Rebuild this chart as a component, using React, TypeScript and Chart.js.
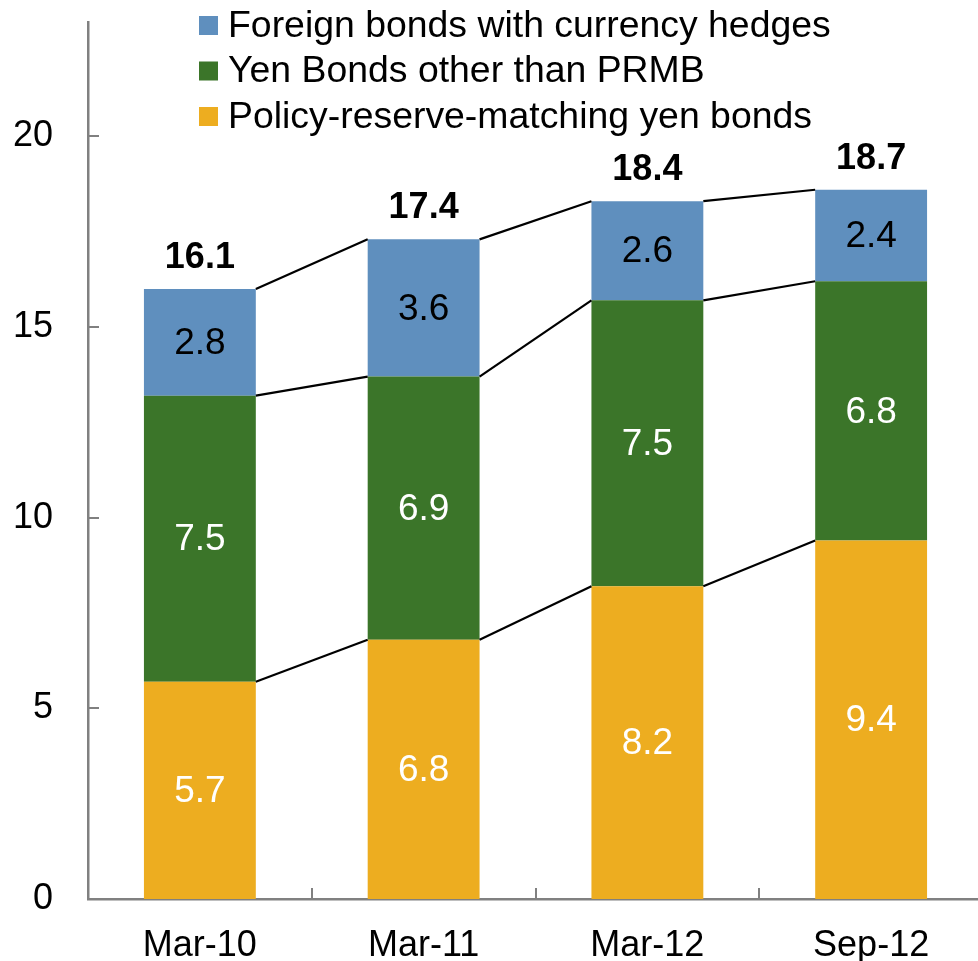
import React, { useEffect, useRef } from "react";
import { Chart, registerables } from "chart.js";

Chart.register(...registerables);

const categories = ["Mar-10", "Mar-11", "Mar-12", "Sep-12"];
const policyReserve = [5.7, 6.8, 8.2, 9.4];
const yenOther = [7.5, 6.9, 7.5, 6.8];
const foreignHedged = [2.8, 3.6, 2.6, 2.4];
const totals = [16.1, 17.4, 18.4, 18.7];
const yTicks = [0, 5, 10, 15, 20];
const seriesLabels = [
  "Policy-reserve-matching yen bonds",
  "Yen Bonds other than PRMB",
  "Foreign bonds with currency hedges",
];
const seriesColors = ["#EDAD20", "#3B7529", "#5F8FBE"];
const labelColors = ["#FFFFFF", "#FFFFFF", "#000000"];

const FONT = '"Liberation Sans", Arial, sans-serif';
const AXIS_COLOR = "#808080";

const overlayPlugin = {
  id: "overlay",
  afterDatasetsDraw(chart: any) {
    const ctx = chart.ctx;
    const metas = chart.data.datasets.map((_: any, i: number) => chart.getDatasetMeta(i));
    ctx.save();
    // connector lines
    ctx.strokeStyle = "#000000";
    ctx.lineWidth = 2.2;
    metas.forEach((meta: any) => {
      for (let i = 0; i < meta.data.length - 1; i++) {
        const a = meta.data[i];
        const b = meta.data[i + 1];
        ctx.beginPath();
        ctx.moveTo(a.x + a.width / 2, a.y);
        ctx.lineTo(b.x - b.width / 2, b.y);
        ctx.stroke();
      }
    });
    // segment labels
    ctx.font = `37px ${FONT}`;
    ctx.textAlign = "center";
    ctx.textBaseline = "middle";
    metas.forEach((meta: any, d: number) => {
      ctx.fillStyle = labelColors[d];
      meta.data.forEach((el: any, i: number) => {
        const v = chart.data.datasets[d].data[i] as number;
        ctx.fillText(v.toFixed(1), el.x, (el.y + el.base) / 2 + 1.5);
      });
    });
    // totals
    ctx.font = `bold 36px ${FONT}`;
    ctx.fillStyle = "#000000";
    const topMeta = metas[metas.length - 1];
    topMeta.data.forEach((el: any, i: number) => {
      ctx.fillText(totals[i].toFixed(1), el.x, el.y - 31);
    });
    ctx.restore();
  },
  afterDraw(chart: any) {
    const ctx = chart.ctx;
    const area = chart.chartArea;
    const yScale = chart.scales.y;
    const xScale = chart.scales.x;
    ctx.save();
    ctx.strokeStyle = AXIS_COLOR;
    ctx.lineWidth = 2;
    // inward y tick marks
    yTicks.forEach((v) => {
      const py = Math.round(yScale.getPixelForValue(v));
      ctx.beginPath();
      ctx.moveTo(area.left, py);
      ctx.lineTo(area.left + 11, py);
      ctx.stroke();
    });
    // category separators on x axis
    for (let i = 1; i < categories.length; i++) {
      const px = Math.round(
        (xScale.getPixelForValue(i - 1) + xScale.getPixelForValue(i)) / 2
      );
      ctx.beginPath();
      ctx.moveTo(px, area.bottom);
      ctx.lineTo(px, area.bottom - 11);
      ctx.stroke();
    }
    // legend
    ctx.font = `37.4px ${FONT}`;
    ctx.textAlign = "left";
    ctx.textBaseline = "middle";
    const n = chart.data.datasets.length;
    for (let r = 0; r < n; r++) {
      const d = n - 1 - r;
      const ds = chart.data.datasets[d];
      const cy = 25.5 + r * 45.5;
      ctx.fillStyle = ds.backgroundColor as string;
      ctx.fillRect(199, cy - 9.5, 19, 19);
      ctx.fillStyle = "#000000";
      ctx.fillText(ds.label, 228, cy + 1);
    }
    ctx.restore();
  },
};

export default function App() {
  const canvasRef = useRef<HTMLCanvasElement | null>(null);

  useEffect(() => {
    document.body.style.margin = "0";
    const canvas = canvasRef.current;
    if (!canvas) return;
    const chart = new Chart(canvas, {
      type: "bar",
      data: {
        labels: categories,
        datasets: [
          { label: seriesLabels[0], data: policyReserve, backgroundColor: seriesColors[0] },
          { label: seriesLabels[1], data: yenOther, backgroundColor: seriesColors[1] },
          { label: seriesLabels[2], data: foreignHedged, backgroundColor: seriesColors[2] },
        ],
      },
      options: {
        responsive: false,
        animation: false,
        devicePixelRatio: 1,
        layout: { padding: { top: 22, left: 0, right: 0, bottom: 0 } },
        datasets: {
          bar: { categoryPercentage: 1, barPercentage: 0.5, borderWidth: 0 },
        },
        plugins: {
          legend: { display: false },
          tooltip: { enabled: false },
          title: { display: false },
        },
        scales: {
          x: {
            stacked: true,
            grid: { display: false, drawTicks: false },
            border: { display: true, color: AXIS_COLOR, width: 2.5 },
            ticks: {
              color: "#000000",
              font: { family: FONT, size: 36 },
              padding: 25,
              maxRotation: 0,
              autoSkip: false,
            },
            afterFit(scale: any) {
              scale.height = 62;
              scale.paddingLeft = 0;
              scale.paddingRight = 0;
            },
          },
          y: {
            stacked: true,
            min: 0,
            max: 23,
            grid: { display: false, drawTicks: false },
            border: { display: true, color: AXIS_COLOR, width: 2.5 },
            afterBuildTicks(scale: any) {
              scale.ticks = yTicks.map((v) => ({ value: v }));
            },
            ticks: {
              color: "#000000",
              font: { family: FONT, size: 36 },
              padding: 35,
            },
            afterFit(scale: any) {
              scale.width = 88;
              scale.paddingTop = 0;
              scale.paddingBottom = 0;
            },
          },
        },
      },
      plugins: [overlayPlugin],
    });
    return () => chart.destroy();
  }, []);

  return (
    <div style={{ width: 978, height: 961, overflow: "hidden", position: "relative" }}>
      <canvas ref={canvasRef} width={983} height={961} style={{ display: "block" }} />
    </div>
  );
}
